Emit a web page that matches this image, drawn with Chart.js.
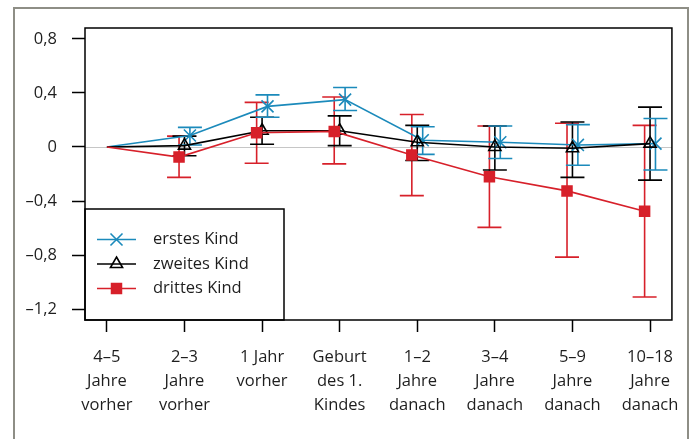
<!DOCTYPE html>
<html>
<head>
<meta charset="utf-8">
<script src="https://cdn.jsdelivr.net/npm/chart.js@4"></script>
<style>
  html, body { margin: 0; padding: 0; background: #fff; }
  #frame { position: absolute; left: 13px; top: 7px; width: 672px; height: 460px; border: 2px solid #8e8e86; }
  #wrap { position: absolute; left: 0; top: 0; width: 692px; height: 439px; }
</style>
</head>
<body>
<div id="frame"></div>
<div id="wrap"><canvas id="chart" width="692" height="439"></canvas></div>
<script>
// categories (multi-line labels)
const categories = [
    ['4–5', 'Jahre', 'vorher'],
    ['2–3', 'Jahre', 'vorher'],
    ['1 Jahr', 'vorher'],
    ['Geburt', 'des 1.', 'Kindes'],
    ['1–2', 'Jahre', 'danach'],
    ['3–4', 'Jahre', 'danach'],
    ['5–9', 'Jahre', 'danach'],
    ['10–18', 'Jahre', 'danach']
];
const yTicks = [0.8, 0.4, 0, -0.4, -0.8, -1.2];

// erstes Kind
const firstVals = [0, 0.085, 0.30, 0.35, 0.05, 0.035, 0.015, 0.025];
const firstLow  = [null, 0.015, 0.22, 0.27, -0.055, -0.085, -0.135, -0.17];
const firstHigh = [null, 0.145, 0.385, 0.44, 0.15, 0.155, 0.165, 0.21];

// zweites Kind
const secondVals = [0, 0.01, 0.12, 0.12, 0.035, 0.0, -0.01, 0.025];
const secondLow  = [null, -0.065, 0.02, 0.01, -0.10, -0.17, -0.225, -0.245];
const secondHigh = [null, 0.08, 0.22, 0.23, 0.16, 0.155, 0.185, 0.295];

// drittes Kind
const thirdVals = [0, -0.075, 0.105, 0.115, -0.06, -0.22, -0.325, -0.475];
const thirdLow  = [null, -0.225, -0.12, -0.125, -0.36, -0.595, -0.815, -1.11];
const thirdHigh = [null, 0.08, 0.33, 0.37, 0.24, 0.155, 0.175, 0.16];

const FONT = '"Open Sans", "Noto Sans", sans-serif';
const TEXT = '#1e1e1e';
const BLUE = '#1b8abb';
const RED = '#d7202a';

function toPoints(vals, dodge) {
    return vals.map((v, i) => ({ x: i === 0 ? i : i + dodge, y: v }));
}

function fmt(v) {
    if (v === 0) return '0';
    return v.toFixed(1).replace('.', ',').replace('-', '–');
}

const datasets = [
    { label: 'erstes Kind', data: toPoints(firstVals, 0.07), low: firstLow, high: firstHigh,
      borderColor: BLUE, pointStyle: 'crossRot', pointBorderColor: BLUE, pointBackgroundColor: BLUE, pointRadius: 8.5, order: 3 },
    { label: 'zweites Kind', data: toPoints(secondVals, 0.0), low: secondLow, high: secondHigh,
      borderColor: '#000', pointStyle: 'triangle', pointBorderColor: '#000', pointBackgroundColor: 'rgba(0,0,0,0)', pointRadius: 7, order: 2 },
    { label: 'drittes Kind', data: toPoints(thirdVals, -0.07), low: thirdLow, high: thirdHigh,
      borderColor: RED, pointStyle: 'rect', pointBorderColor: RED, pointBackgroundColor: RED, pointRadius: 7, order: 1 }
];
datasets.forEach(ds => {
    ds.borderWidth = 1.6;
    ds.pointBorderWidth = 1.6;
    ds.tension = 0;
    ds.fill = false;
    const r = ds.pointRadius;
    ds.pointRadius = ctx => ctx.dataIndex === 0 ? 0 : r;
    ds.markerRadius = r;
});

// zero line, frame, error bars, legend box
const decor = {
    id: 'decor',
    beforeDatasetsDraw(chart) {
        const { ctx, chartArea: a, scales: { x, y } } = chart;
        ctx.save();
        const y0 = Math.round(y.getPixelForValue(0)) + 0.5;
        ctx.strokeStyle = '#c6c6c6';
        ctx.lineWidth = 1.2;
        ctx.beginPath(); ctx.moveTo(a.left, y0); ctx.lineTo(a.right, y0); ctx.stroke();

        chart.data.datasets.slice().reverse().forEach(ds => {
            ctx.strokeStyle = ds.borderColor;
            ctx.lineWidth = 1.6;
            ds.data.forEach((p, i) => {
                if (ds.low[i] == null) return;
                const px = x.getPixelForValue(p.x);
                const lo = y.getPixelForValue(ds.low[i]);
                const hi = y.getPixelForValue(ds.high[i]);
                ctx.beginPath();
                ctx.moveTo(px, lo); ctx.lineTo(px, hi);
                ctx.moveTo(px - 12, lo); ctx.lineTo(px + 12, lo);
                ctx.moveTo(px - 12, hi); ctx.lineTo(px + 12, hi);
                ctx.stroke();
            });
        });
        ctx.restore();
    },
    afterDatasetsDraw(chart) {
        const { ctx, chartArea: a } = chart;
        ctx.save();
        // legend box
        const lx = a.left, ly = 209, lw = 199, lh = a.bottom - 209;
        ctx.fillStyle = '#fff';
        ctx.fillRect(lx, ly, lw, lh);
        ctx.strokeStyle = '#000';
        ctx.lineWidth = 1.5;
        ctx.strokeRect(lx, ly, lw, lh);
        chart.data.datasets.forEach((ds, i) => {
            const cy = 239.5 + i * 24.5;
            ctx.strokeStyle = ds.borderColor;
            ctx.lineWidth = 1.6;
            ctx.beginPath(); ctx.moveTo(lx + 12, cy); ctx.lineTo(lx + 51, cy); ctx.stroke();
            ctx.fillStyle = ds.pointBackgroundColor;
            ctx.strokeStyle = ds.pointBorderColor;
            Chart.helpers.drawPoint(ctx, {
                pointStyle: ds.pointStyle, radius: ds.markerRadius, borderWidth: 1.6, rotation: 0
            }, lx + 31.5, cy);
            ctx.fillStyle = TEXT;
            ctx.font = '16.5px ' + FONT;
            ctx.textBaseline = 'middle';
            ctx.textAlign = 'left';
            ctx.fillText(ds.label, lx + 68, cy);
        });
        // plot frame
        ctx.strokeStyle = '#000';
        ctx.lineWidth = 1.5;
        ctx.strokeRect(a.left, a.top, a.right - a.left, a.bottom - a.top);
        ctx.restore();
    }
};

new Chart(document.getElementById('chart').getContext('2d'), {
    type: 'line',
    data: { datasets },
    options: {
        responsive: false,
        animation: false,
        layout: { padding: { left: 0, right: 18, top: 28, bottom: 0 } },
        plugins: { legend: { display: false }, tooltip: { enabled: false } },
        scales: {
            x: {
                type: 'linear', min: -0.282, max: 7.282,
                afterBuildTicks: s => { s.ticks = categories.map((c, i) => ({ value: i })); },
                afterFit: s => { s.height = 119; },
                border: { display: false },
                grid: { drawOnChartArea: false, drawTicks: true, tickLength: 12, tickColor: '#000', tickWidth: 1.5 },
                ticks: {
                    color: TEXT, padding: 13, maxRotation: 0, autoSkip: false,
                    font: { family: FONT, size: 16.5, lineHeight: 1.45 },
                    callback: v => categories[v]
                }
            },
            y: {
                min: -1.28, max: 0.88,
                afterBuildTicks: s => { s.ticks = yTicks.map(v => ({ value: v })); },
                afterFit: s => { s.width = 85; },
                border: { display: false },
                grid: { drawOnChartArea: false, drawTicks: true, tickLength: 13, tickColor: '#000', tickWidth: 1.5 },
                ticks: {
                    color: TEXT, padding: 15,
                    font: { family: FONT, size: 16.5 },
                    callback: v => fmt(v)
                }
            }
        }
    },
    plugins: [decor]
});
</script>
</body>
</html>
